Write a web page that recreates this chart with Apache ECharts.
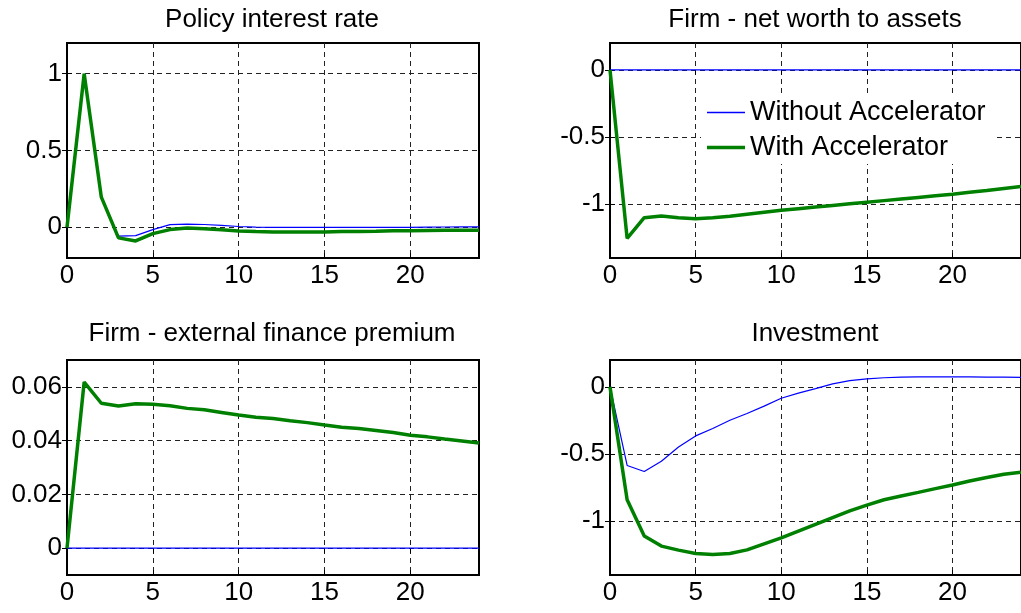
<!DOCTYPE html>
<html>
<head>
<meta charset="utf-8">
<script src="https://cdn.jsdelivr.net/npm/echarts@6/dist/echarts.min.js"></script>
<style>
html,body{margin:0;padding:0;background:#fff;}
#c{width:1021px;height:613px;}
</style>
</head>
<body>
<div id="c"></div>
<script>
// ---- data ----
const periods = [0,1,2,3,4,5,6,7,8,9,10,11,12,13,14,15,16,17,18,19,20,21,22,23,24];
const xTicks = [0,5,10,15,20];
const titles = ['Policy interest rate','Firm - net worth to assets','Firm - external finance premium','Investment'];
const seriesNames = ['Without Accelerator','With Accelerator'];

const policyWithout = [0,1.0,0.2,-0.058,-0.054,-0.015,0.017,0.021,0.018,0.012,0.005,0.001,0,-0.001,-0.001,-0.001,-0.001,0,0,0,0,0.001,0.002,0.003,0.003];
const policyWith    = [0,1.0,0.196,-0.069,-0.089,-0.041,-0.015,-0.005,-0.01,-0.016,-0.024,-0.028,-0.03,-0.03,-0.03,-0.03,-0.028,-0.027,-0.026,-0.023,-0.022,-0.021,-0.02,-0.019,-0.019];

const nwWithout = [0,0,0,0,0,0,0,0,0,0,0,0,0,0,0,0,0,0,0,0,0,0,0,0,0];
const nwWith    = [0,-1.254,-1.10,-1.087,-1.10,-1.107,-1.10,-1.09,-1.075,-1.06,-1.045,-1.033,-1.021,-1.009,-0.997,-0.985,-0.973,-0.961,-0.949,-0.937,-0.925,-0.911,-0.897,-0.882,-0.868];

const efpWithout = [0,0,0,0,0,0,0,0,0,0,0,0,0,0,0,0,0,0,0,0,0,0,0,0,0];
const efpWith    = [0,0.0618,0.0539,0.0529,0.0537,0.0535,0.0530,0.0520,0.0515,0.0505,0.0495,0.0487,0.0482,0.0474,0.0467,0.0458,0.0450,0.0445,0.0438,0.0430,0.0420,0.0414,0.0406,0.0399,0.0391];

const invWithout = [0,-0.585,-0.63,-0.553,-0.448,-0.365,-0.31,-0.248,-0.198,-0.143,-0.085,-0.047,-0.013,0.022,0.047,0.06,0.068,0.073,0.075,0.075,0.075,0.075,0.073,0.072,0.07];
const invWith    = [0,-0.84,-1.11,-1.185,-1.215,-1.24,-1.248,-1.24,-1.213,-1.168,-1.123,-1.073,-1.023,-0.973,-0.923,-0.88,-0.84,-0.812,-0.785,-0.757,-0.73,-0.70,-0.675,-0.65,-0.635];

const yRanges = [[-0.2,1.2],[-1.4,0.2],[-0.01,0.07],[-1.4,0.2]];
const yTicks = [[0,0.5,1],[-1,-0.5,0],[0,0.02,0.04,0.06],[-1,-0.5,0]];
const panelData = [[policyWithout,policyWith],[nwWithout,nwWith],[efpWithout,efpWith],[invWithout,invWith]];

// ---- layout ----
const FONT = 'Liberation Sans, Arial, Helvetica, sans-serif';
const BLUE = '#0000ff', GREEN = '#008000';
const grids = [
  {left:67, top:43, width:412, height:215},
  {left:610, top:43, width:412, height:215},
  {left:67, top:360, width:412, height:215},
  {left:610, top:360, width:412, height:215}
];
const titleTops = [2,2,316,316];

const option = {
  animation:false,
  backgroundColor:'#fff',
  title: grids.map((g,i)=>({
    text: titles[i],
    left: g.left + g.width/2 - 6,
    textAlign:'center',
    top: titleTops[i],
    textStyle:{fontFamily:FONT,fontSize:26,fontWeight:'normal',color:'#000'}
  })),
  legend:{
    data: [
      {name:seriesNames[0], icon:'path://M0,0H36V1.2H0Z', itemStyle:{color:BLUE}},
      {name:seriesNames[1], icon:'path://M0,0H38V3.6H0Z', itemStyle:{color:GREEN}}
    ],
    orient:'vertical',
    left:701, top:97,
    padding:[2,8,3,6],
    itemGap:8,
    itemWidth:38, itemHeight:25,
    symbolKeepAspect:true,
    backgroundColor:'#fff',
    textStyle:{fontFamily:FONT,fontSize:27,color:'#000',lineHeight:25}
  },
  grid: grids.map(g=>Object.assign({show:true,borderColor:'#000',borderWidth:2,backgroundColor:'#fff',containLabel:false},g)),
  xAxis: [],
  yAxis: [],
  series: []
};

grids.forEach((g,i)=>{
  option.xAxis.push({
    type:'value', gridIndex:i, min:0, max:24,
    axisLine:{show:true,onZero:false,lineStyle:{color:'#000',width:2}},
    axisTick:{show:true,inside:true,length:5,customValues:xTicks,lineStyle:{color:'#000',width:1}},
    axisLabel:{customValues:xTicks,fontFamily:FONT,fontSize:26,color:'#000',margin:5},
    splitLine:{show:true,lineStyle:{color:'#222',width:1,type:[5,4]}}
  });
  option.xAxis.push({
    type:'value', gridIndex:i, min:0, max:24, position:'top',
    axisLine:{show:false},
    axisTick:{show:true,inside:true,length:5,customValues:xTicks,lineStyle:{color:'#000',width:1}},
    axisLabel:{show:false},
    splitLine:{show:false}
  });
  option.yAxis.push({
    type:'value', gridIndex:i, min:yRanges[i][0], max:yRanges[i][1],
    axisLine:{show:true,onZero:false,lineStyle:{color:'#000',width:2}},
    axisTick:{show:true,inside:true,length:5,customValues:yTicks[i],lineStyle:{color:'#000',width:1}},
    axisLabel:{customValues:yTicks[i],fontFamily:FONT,fontSize:26,color:'#000',margin:5},
    splitLine:{show:true,lineStyle:{color:'#222',width:1,type:[5,4]}}
  });
  option.yAxis.push({
    type:'value', gridIndex:i, min:yRanges[i][0], max:yRanges[i][1], position:'right',
    axisLine:{show:false},
    axisTick:{show:true,inside:true,length:5,customValues:yTicks[i],lineStyle:{color:'#000',width:1}},
    axisLabel:{show:false},
    splitLine:{show:false}
  });
  const [wo, w] = panelData[i];
  option.series.push({
    name:seriesNames[0], type:'line', xAxisIndex:2*i, yAxisIndex:2*i,
    data: periods.map((t,k)=>[t,wo[k]]),
    symbol:'none', lineStyle:{color:BLUE,width:1.2}, itemStyle:{color:BLUE}, z:3
  });
  option.series.push({
    name:seriesNames[1], type:'line', xAxisIndex:2*i, yAxisIndex:2*i,
    data: periods.map((t,k)=>[t,w[k]]),
    symbol:'none', lineStyle:{color:GREEN,width:3.5}, itemStyle:{color:GREEN}, z:4
  });
});

const chart = echarts.init(document.getElementById('c'), null, {renderer:'canvas'});
chart.setOption(option);
</script>
</body>
</html>
